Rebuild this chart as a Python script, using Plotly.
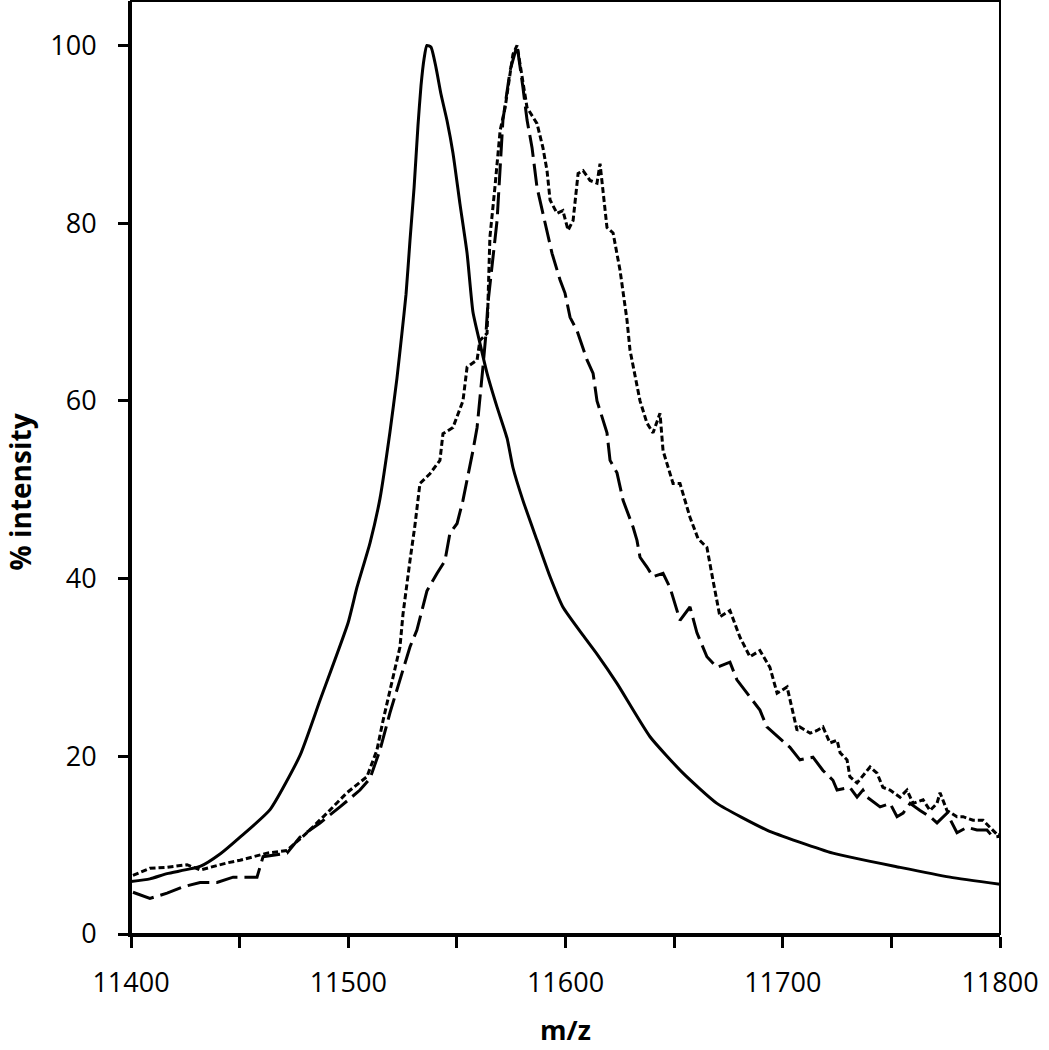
import plotly.graph_objects as go

# ---- data ----
solid_x = [11400, 11408.7, 11416.6, 11431.8, 11441.0, 11450.2, 11464.0, 11477.8, 11487.0, 11499.9,
           11504.0, 11510.0, 11514.6, 11519.2, 11522.4, 11524.7, 11526.6, 11528.4, 11530.3, 11532.1,
           11533.5, 11534.9, 11536.2, 11538.1, 11540.4, 11542.7, 11545.5, 11548.2, 11551.4, 11554.7,
           11557.4, 11560.6, 11563.9, 11568.5, 11573.1, 11575.8, 11580.4, 11586.9, 11592.9, 11598.8,
           11608.1, 11614.5, 11623.7, 11638.9, 11654.1, 11669.7, 11692.7, 11723.1, 11754.0, 11777.0,
           11800]
solid_y = [5.9, 6.2, 6.8, 7.6, 9.0, 10.9, 14.0, 20.1, 26.3, 35.0,
           39.0, 44.0, 49.0, 56.5, 62.5, 67.6, 72.0, 78.0, 84.0, 91.0,
           95.5, 98.5, 100.0, 99.8, 97.5, 94.5, 91.5, 87.9, 82.2, 76.6,
           70.0, 66.5, 63.1, 59.3, 55.8, 52.5, 48.8, 44.3, 40.2, 36.8,
           33.6, 31.5, 28.2, 22.2, 18.1, 14.7, 11.7, 9.1, 7.5, 6.4,
           5.6]

dot_x = [11400.9, 11408.7, 11416.6, 11425.8, 11431.8, 11436.4, 11444.2, 11450.2, 11456.2, 11462.6,
         11471.8, 11481.0, 11490.2, 11499.4, 11508.6, 11513.2, 11516.0, 11519.2, 11523.8, 11525.2,
         11527.1, 11528.4, 11530.7, 11533.0, 11537.6, 11542.2, 11543.6, 11548.2, 11552.8, 11554.7,
         11559.3, 11560.6, 11563.9, 11564.3, 11565.2, 11567.5, 11569.9, 11572.2, 11575.8, 11577.7,
         11582.3, 11586.9, 11589.6, 11591.5, 11592.9, 11596.1, 11598.8, 11601.2, 11603.5, 11605.8,
         11608.1, 11611.3, 11614.5, 11615.9, 11617.3, 11619.1, 11621.9, 11625.1, 11628.3, 11629.7,
         11634.3, 11637.5, 11640.3, 11643.5, 11644.9, 11649.5, 11652.7, 11657.3, 11661.0, 11665.1,
         11667.9, 11671.1, 11675.7, 11680.3, 11684.9, 11689.5, 11694.1, 11697.4, 11702.0, 11704.7,
         11706.6, 11707.9, 11712.6, 11715.8, 11718.5, 11721.7, 11725.0, 11726.4, 11729.6, 11730.9,
         11734.2, 11740.2, 11743.4, 11746.1, 11749.4, 11754.0, 11757.2, 11760.0, 11764.6, 11767.8,
         11771.0, 11772.4, 11775.6, 11780.2, 11783.0, 11787.6, 11792.2, 11795.4, 11799.1, 11800]
dot_y = [6.6, 7.4, 7.5, 7.8, 7.2, 7.5, 8.0, 8.3, 8.7, 9.1,
         9.4, 11.4, 13.6, 15.9, 17.7, 20.7, 24.0, 27.5, 32.3, 36.0,
         39.8, 42.0, 46.0, 50.7, 51.8, 53.3, 56.3, 57.0, 60.0, 63.8,
         64.6, 66.8, 67.6, 71.3, 78.4, 84.0, 90.4, 93.0, 99.0, 100.0,
         93.0, 91.2, 88.5, 85.9, 82.6, 81.1, 81.4, 79.2, 80.3, 85.6,
         85.9, 84.8, 84.5, 86.7, 83.4, 79.5, 78.9, 74.7, 69.1, 65.7,
         60.0, 57.5, 56.4, 58.6, 54.4, 50.7, 50.7, 46.9, 44.5, 43.5,
         39.8, 35.7, 36.4, 33.4, 31.2, 31.9, 30.0, 27.1, 27.8, 24.9,
         22.9, 23.3, 22.6, 22.9, 23.3, 21.5, 21.8, 20.4, 19.6, 17.7,
         17.0, 18.8, 18.1, 16.5, 16.2, 15.4, 16.2, 14.7, 15.1, 13.9,
         14.7, 15.9, 13.9, 13.2, 13.2, 12.8, 12.8, 12.0, 11.1, 11.2]

dash_x = [11400.9, 11408.7, 11416.6, 11423.9, 11431.8, 11439.6, 11447.0, 11453.4, 11458.0, 11460.8,
          11471.8, 11477.8, 11487.0, 11496.2, 11505.4, 11510.0, 11514.6, 11519.2, 11523.8, 11528.4,
          11531.6, 11536.2, 11540.9, 11544.5, 11546.8, 11550.1, 11552.8, 11554.7, 11556.0, 11557.4,
          11559.3, 11560.6, 11562.0, 11563.4, 11564.3, 11568.5, 11571.2, 11574.5, 11577.7, 11580.4,
          11582.3, 11584.6, 11586.9, 11589.6, 11591.5, 11593.8, 11597.5, 11599.8, 11602.1, 11605.3,
          11609.9, 11612.7, 11614.5, 11619.1, 11620.5, 11623.7, 11626.5, 11631.1, 11632.9, 11634.3,
          11637.5, 11640.3, 11644.9, 11648.1, 11652.7, 11657.3, 11660.5, 11665.1, 11669.7, 11675.7,
          11678.9, 11684.9, 11689.5, 11692.7, 11703.3, 11707.9, 11713.9, 11718.5, 11723.1, 11725.0,
          11730.9, 11734.2, 11736.9, 11738.8, 11744.8, 11749.4, 11752.6, 11755.4, 11758.6, 11763.2,
          11767.8, 11771.0, 11775.6, 11780.2, 11784.8, 11789.4, 11794.0, 11796.8, 11800]
dash_y = [4.7, 4.0, 4.6, 5.3, 5.8, 5.8, 6.4, 6.4, 6.4, 8.7,
          9.1, 10.9, 12.5, 14.3, 16.2, 17.5, 20.7, 24.9, 28.6, 32.3,
          34.2, 38.6, 40.6, 42.0, 45.1, 46.2, 48.8, 51.1, 52.5, 54.4,
          57.0, 60.0, 63.8, 67.6, 71.0, 80.3, 91.6, 97.2, 100.0, 95.3,
          91.6, 88.5, 84.0, 81.1, 79.2, 76.6, 73.6, 72.1, 69.4, 67.9,
          64.6, 63.1, 60.0, 56.4, 53.3, 51.9, 48.8, 45.8, 44.3, 42.4,
          41.3, 40.2, 40.6, 39.0, 35.3, 36.8, 33.9, 31.2, 30.0, 30.6,
          28.6, 26.7, 25.2, 23.3, 21.0, 19.6, 19.9, 18.4, 17.3, 16.2,
          16.5, 15.4, 16.2, 15.4, 14.3, 14.7, 13.2, 13.6, 14.7, 13.9,
          13.2, 12.5, 13.6, 11.4, 12.0, 11.7, 11.7, 10.9, 11.0]

x_ticks = [11400, 11500, 11600, 11700, 11800]
y_ticks = [0, 20, 40, 60, 80, 100]
x_title = "m/z"
y_title = "% intensity"

fig = go.Figure()
fig.add_trace(go.Scatter(x=dash_x, y=dash_y, mode="lines",
                         line=dict(color="black", width=3, dash="22px,7px")))
fig.add_trace(go.Scatter(x=dot_x, y=dot_y, mode="lines",
                         line=dict(color="black", width=3, dash="6px,3px")))
fig.add_trace(go.Scatter(x=solid_x, y=solid_y, mode="lines",
                         line=dict(color="black", width=3, shape="spline", smoothing=0.5)))

font_family = "Open Sans, Liberation Sans, sans-serif"
fig.update_layout(
    width=1049, height=1050,
    margin=dict(l=131, r=49, t=1, b=116),
    paper_bgcolor="white", plot_bgcolor="white",
    showlegend=False,
    font=dict(family=font_family, color="black", size=27),
    xaxis=dict(range=[11400, 11800], tickvals=x_ticks, ticktext=[str(v) for v in x_ticks],
               showgrid=False, zeroline=False,
               showline=True, linecolor="black", linewidth=3,
               ticks="outside", ticklen=11, tickwidth=3, tickcolor="black",
               minor=dict(dtick=50, tick0=11400, ticks="outside", ticklen=11, tickwidth=3,
                          tickcolor="black", showgrid=False),
               ticklabelstandoff=12,
               title=dict(text="<b>" + x_title + "</b>", font=dict(size=27, family=font_family), standoff=22)),
    yaxis=dict(range=[0, 105], tickvals=y_ticks, ticktext=[str(v) for v in y_ticks],
               showgrid=False, zeroline=False,
               showline=True, linecolor="black", linewidth=3,
               ticks="outside", ticklen=10, tickwidth=3, tickcolor="black",
               ticklabelstandoff=16),
    annotations=[dict(text="<b>" + y_title + "</b>", xref="paper", yref="paper",
                      x=-0.128, y=0.474, textangle=-90, showarrow=False,
                      xanchor="center", yanchor="middle",
                      font=dict(size=28, family=font_family, color="black"))],
    shapes=[dict(type="rect", xref="paper", yref="paper", x0=0, y0=0, x1=1, y1=1,
                 line=dict(color="black", width=2), fillcolor="rgba(0,0,0,0)", layer="above")],
)

fig.write_html("out.html", config={"displayModeBar": False},
               post_script="document.body.style.margin='0';")
